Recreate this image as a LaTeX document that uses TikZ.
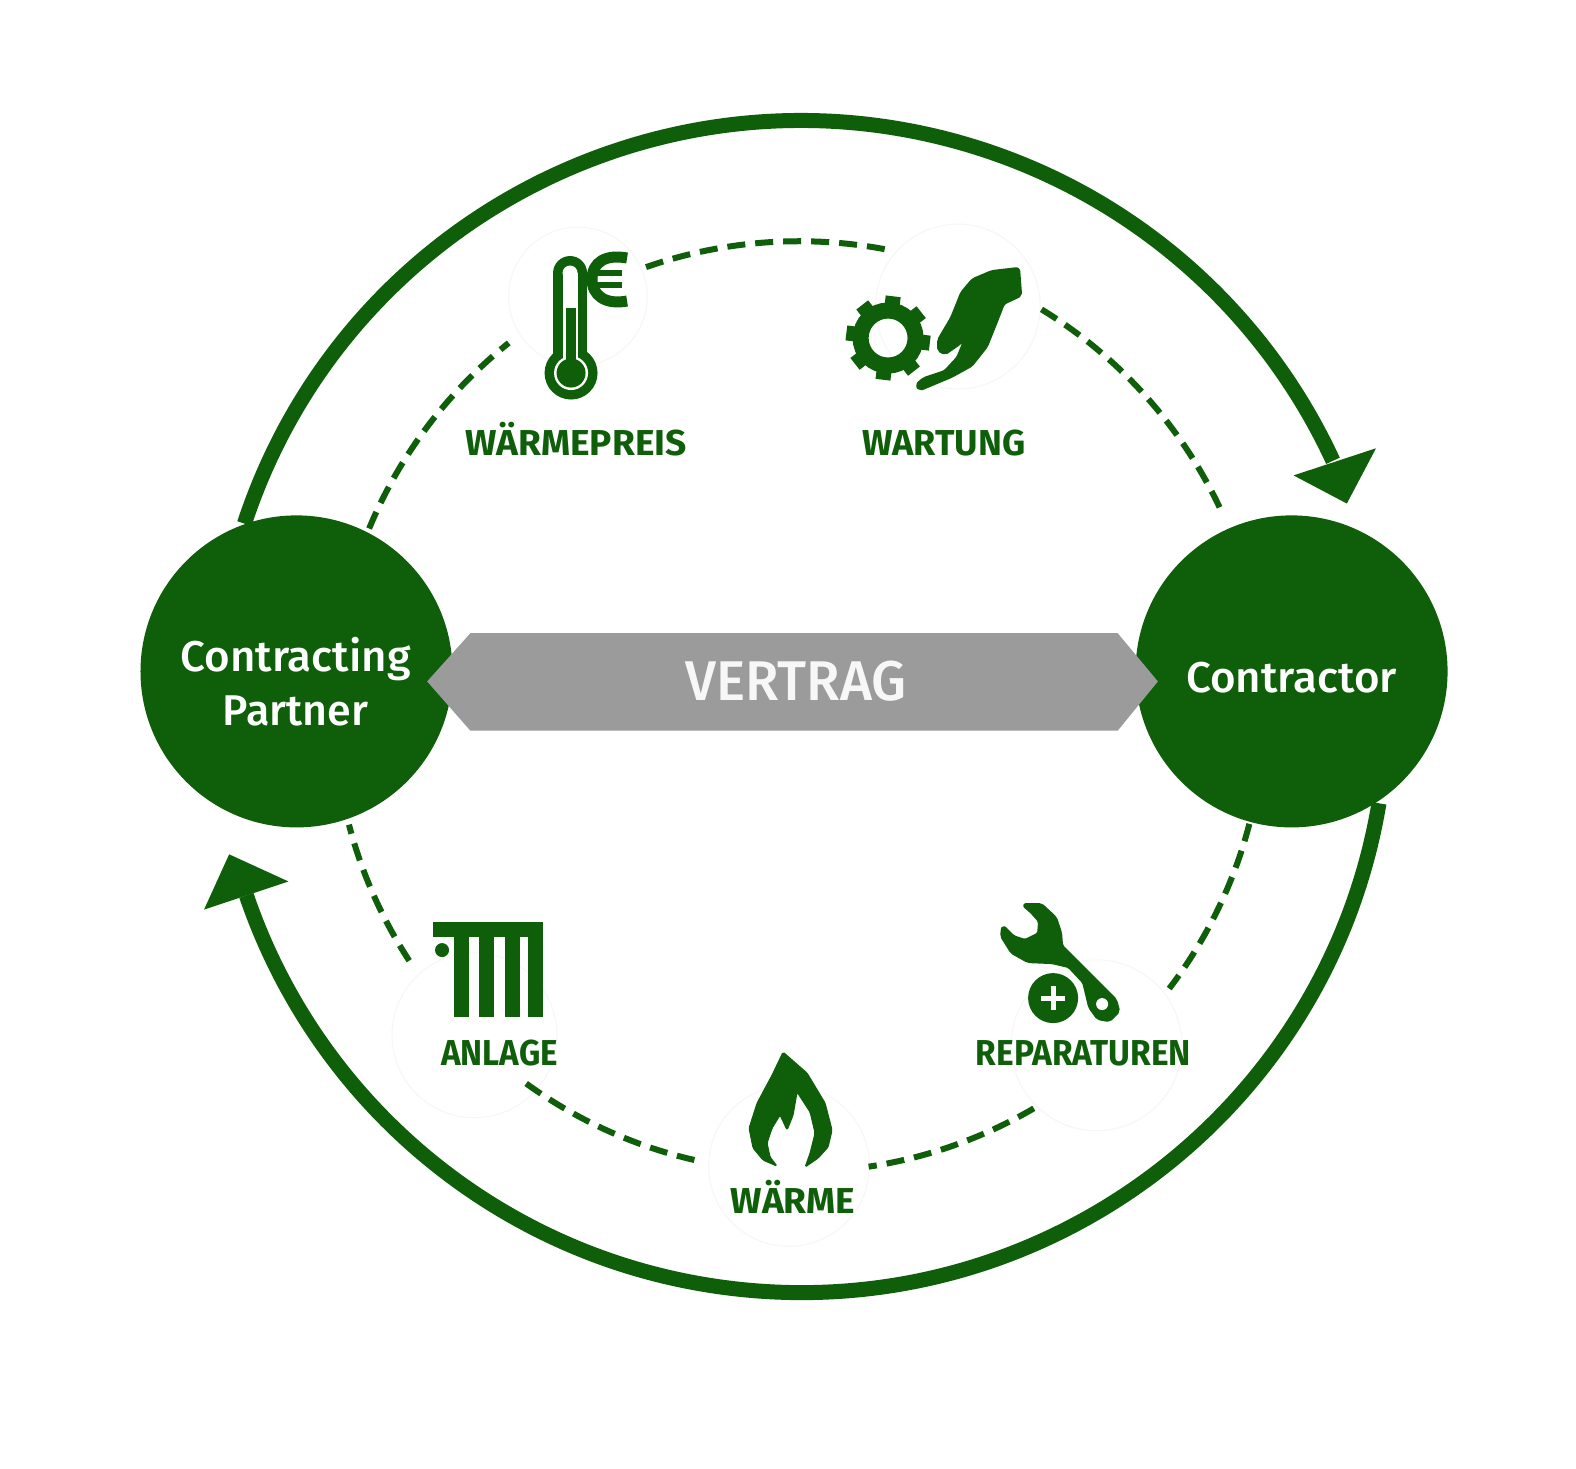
\documentclass[tikz,border=0pt]{standalone}
\usepackage{fontspec}
\usepackage{graphicx}
\setmainfont{Fira Sans}
\newfontfamily\dinfont[UprightFont=* Medium,BoldFont=* Bold]{Fira Sans}
\usetikzlibrary{calc}
\definecolor{leaf}{HTML}{0F5F0A}
\definecolor{band}{HTML}{9B9B9B}
\definecolor{haze}{HTML}{F6F6F6}
\newcommand{\sx}[2]{\scalebox{#1}[1]{#2}}
\tikzset{
  bigarc/.style={draw=leaf,line width=15pt},
  tiparrow/.style={fill=leaf,draw=none},
  dashline/.style={draw=leaf,line width=6pt,dash pattern=on 18pt off 10pt},
  party/.style={circle,fill=leaf,draw=none,minimum size=312pt,inner sep=0pt},
  partytext/.style={text=white,font=\dinfont\fontsize{43}{53}\selectfont,align=center,inner sep=0pt},
  label/.style={text=leaf,font=\dinfont\bfseries\fontsize{36}{40}\selectfont,inner sep=0pt,anchor=base},
  halo/.style={draw=haze,line width=1pt},
  shapefill/.style={fill=leaf,draw=none},
  softshape/.style={fill=leaf,draw=leaf,line width=4pt,line join=round,rounded corners=2pt},
  crispshape/.style={fill=leaf,draw=leaf,line width=1pt,line join=round,rounded corners=1.5pt},
}
\begin{document}
\begin{tikzpicture}[x=1.005pt,y=1.005pt]
\useasboundingbox (0,7) rectangle (1568,1468);
\fill[white] (0,7) rectangle (1568,1468);
% centres
\coordinate (outer) at (797,765);
\coordinate (ring) at (795,765);
% faint halos behind the icons
\draw[halo] (575,1173) circle[radius=69];
\draw[halo] (953,1163) circle[radius=82];
\draw[halo] (472,438) circle[radius=82];
\draw[halo] (1091,428) circle[radius=85];
\draw[halo] (785,308) circle[radius=80];
% outer arcs
\coordinate (topstart) at ($(outer)+(161.8:583)$);
\coordinate (topend) at ($(outer)+(24.8:583)$);
\coordinate (botstart) at ($(outer)+(-9.5:583)$);
\draw[bigarc] (topstart) arc[start angle=161.8,end angle=24.8,radius=583];
\draw[bigarc] (botstart) arc[start angle=-9.5,end angle=-161.2,radius=583];
\fill[tiparrow] (1369,1022) -- (1287,995) -- (1340,967) -- cycle;
\fill[tiparrow] (228,618) -- (287,591) -- (203,563) -- cycle;
% dashed ring
\foreach \n/\a/\b in {a/157.5/128.6,b/109.2/78.4,c/58.6/24.6,d/-14.6/-37.3,e/-59.7/-81.4,f/-103/-126.5,g/-146.9/-165.3}{
  \coordinate (ring\n) at ($(ring)+(\a:463)$);
  \draw[dashline] (ring\n) arc[start angle=\a,end angle=\b,radius=463];
}
% parties
\node[party] (partner) at (295,800) {};
\node[party] (contractor) at (1285,800) {};
\node[partytext] (partnertext) at (294,790) {\sx{1.02}{Contracting}\\[1pt]\sx{1}{Partner}};
\node[partytext] (contractortext) at (1285,794) {\sx{1.02}{Contractor}};
% contract band
\fill[band] (425,790) -- (468,838) -- (1112,838) -- (1152,790) -- (1112,741) -- (468,741) -- cycle;
\node[text=white!92!band,font=\dinfont\fontsize{56}{60}\selectfont,inner sep=0pt] (vertrag) at (792,790) {\sx{0.98}{VERTRAG}};
% labels
\node[label] (waermepreis) at (573,1015) {\sx{1.03}{WÄRMEPREIS}};
\node[label] (wartung) at (939,1015) {WARTUNG};
\node[label] (anlage) at (497,408) {\sx{0.92}{ANLAGE}};
\node[label] (reparaturen) at (1078,408) {\sx{0.93}{REPARATUREN}};
\node[label] (waerme) at (789,261) {\sx{1.03}{WÄRME}};
% icons, in the reference's own pixel frame
\begin{scope}[x=1pt,y=1pt,yshift=7.34pt]
% thermometer
\fill[shapefill] (553,1195) rectangle (587,1108);
\fill[shapefill] (570,1195) circle[radius=17];
\fill[shapefill] (571,1095) circle[radius=26.5];
\fill[white] (562.5,1195) rectangle (577.5,1108);
\fill[white] (570,1195) circle[radius=7.5];
\fill[white] (571,1095) circle[radius=17];
\fill[shapefill] (566,1160) rectangle (575.5,1098);
\fill[shapefill] (571,1095) circle[radius=14.5];
% euro
\draw[leaf,line width=11pt] (627,1210) .. controls (606,1214) and (592,1206) .. (592,1189) .. controls (592,1172) and (606,1163) .. (627,1167);
\draw[leaf,line width=5.5pt] (592,1195) -- (622,1195) (592,1183) -- (622,1183);
% gear
\draw[leaf,line width=16pt] (888,1130) circle[radius=27.5];
\foreach \t in {-7,38,...,308}{
  \draw[leaf,line width=15pt,line cap=butt] ($(888,1130)+(\t:30)$) -- ($(888,1130)+(\t:42)$);
}
% hand
\filldraw[softshape] (1018,1199) -- (1020,1173) -- (1003,1165) -- (996,1147) -- (986,1122) -- (971,1103) -- (951,1092)
  -- (920,1079) -- (917,1083) -- (924,1089) -- (945,1096) -- (958,1110) -- (967,1132) -- (958,1124)
  -- (945,1115) -- (939,1118) -- (939,1128) -- (952,1150) -- (962,1175) -- (973,1188) -- (992,1196) -- cycle;
% radiator
\fill[shapefill] (433,546) rectangle (543,531);
\foreach \xa/\xb in {454/469,479/494,505/520,528/543}{
  \fill[shapefill] (\xa,531) rectangle (\xb,451);
}
\fill[shapefill] (442,518) circle[radius=7];
% wrench
\filldraw[softshape] (1024,563) -- (1041,563) -- (1055,550) -- (1060,535) -- (1061,522) -- (1084,499) -- (1115,468)
  -- (1118,457) -- (1109,448) -- (1098,450) -- (1090,461) -- (1084,486) -- (1069,502) -- (1052,506)
  -- (1028,507) -- (1012,516) -- (1002,532) -- (1003,541) -- (1013,531) -- (1025,527) -- (1039,534)
  -- (1040,547) -- (1032,556) -- cycle;
\fill[white] (1053,470) circle[radius=28];
\fill[shapefill] (1053,470) circle[radius=25];
\fill[white] (1102,464) circle[radius=6];
\draw[white,line width=5pt] (1041,470) -- (1065,470) (1053,458) -- (1053,482);
% flame
\filldraw[crispshape] (783,416) -- (807,395) -- (825,365) -- (832,338) -- (828,321) -- (818,310) -- (805,301)
  -- (810,315) -- (815,335) -- (810,356) -- (797,376) -- (793,353) -- (787,338) -- (780,353) -- (772,340)
  -- (767,325) -- (770,311) -- (777,302) -- (763,308) -- (753,320) -- (749,340) -- (757,365) -- (772,393) -- cycle;
\end{scope}
\end{tikzpicture}
\end{document}
